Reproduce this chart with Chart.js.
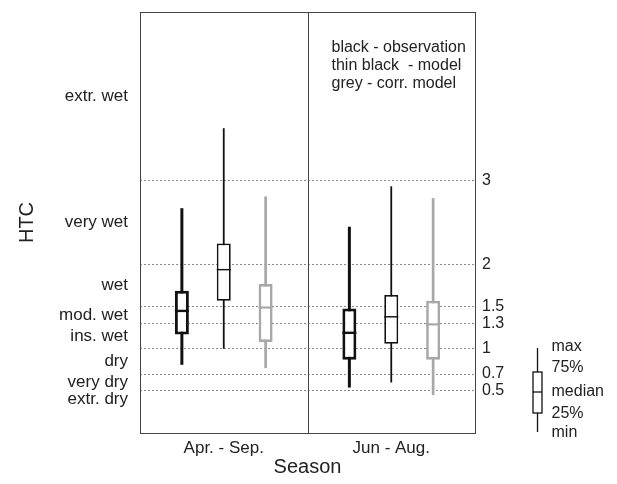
<!DOCTYPE html>
<html>
<head>
<meta charset="utf-8">
<script src="https://cdn.jsdelivr.net/npm/chart.js@4/dist/chart.umd.min.js"></script>
<style>
  html, body { margin: 0; padding: 0; background: #fff; }
  canvas { display: block; }
</style>
</head>
<body>
<canvas id="chart" width="617" height="484"></canvas>
<script>
// seasons on the x axis
var seasons = ["Apr. - Sep.", "Jun - Aug."];

// five-number summaries per season: [min, 25%, median, 75%, max]
var observation = [[0.81, 1.17, 1.45, 1.69, 2.67], [0.54, 0.87, 1.19, 1.48, 2.45]];
var model = [[1.00, 1.57, 1.94, 2.25, 3.62], [0.60, 1.06, 1.38, 1.64, 2.93]];
var corrModel = [[0.77, 1.08, 1.49, 1.77, 2.81], [0.45, 0.87, 1.29, 1.57, 2.79]];

// HTC class thresholds (right axis) and class labels (left axis)
var thresholds = [0.5, 0.7, 1, 1.3, 1.5, 2, 3];
var classLabels = ["extr. dry", "very dry", "dry", "ins. wet", "mod. wet", "wet", "very wet", "extr. wet"];
var classPositions = [0.4, 0.6, 0.85, 1.15, 1.4, 1.75, 2.5, 4];

var notes = ["black - observation", "thin black  - model", "grey - corr. model"];
var keyLabels = ["max", "75%", "median", "25%", "min"];

var FONT = '"Liberation Sans", Arial, Helvetica, sans-serif';
var TEXT = "#222";
Chart.defaults.font.family = FONT;
Chart.defaults.color = TEXT;

function boxSet(label, stats, color, width) {
  return {
    label: label,
    stats: stats,
    data: stats.map(function(s) { return [s[1], s[3]]; }),
    backgroundColor: "#fff",
    borderColor: color,
    borderWidth: width,
    borderSkipped: false,
    whiskerWidth: width,
    yAxisID: "y",
    categoryPercentage: 0.75,
    barPercentage: 0.334
  };
}

var boxPlot = {
  id: "boxPlot",
  beforeDatasetsDraw: function(chart) {
    var ctx = chart.ctx, y = chart.scales.y;
    chart.data.datasets.forEach(function(ds, i) {
      chart.getDatasetMeta(i).data.forEach(function(bar, j) {
        var s = ds.stats[j];
        ctx.save();
        ctx.strokeStyle = ds.borderColor;
        ctx.lineWidth = ds.whiskerWidth;
        ctx.beginPath();
        ctx.moveTo(bar.x, y.getPixelForValue(s[0]));
        ctx.lineTo(bar.x, y.getPixelForValue(s[4]));
        ctx.stroke();
        ctx.restore();
      });
    });
  },
  afterDatasetsDraw: function(chart) {
    var ctx = chart.ctx, y = chart.scales.y;
    chart.data.datasets.forEach(function(ds, i) {
      chart.getDatasetMeta(i).data.forEach(function(bar, j) {
        var py = y.getPixelForValue(ds.stats[j][2]);
        ctx.save();
        ctx.strokeStyle = ds.borderColor;
        ctx.lineWidth = ds.borderWidth * 0.8;
        ctx.beginPath();
        ctx.moveTo(bar.x - bar.width / 2, py);
        ctx.lineTo(bar.x + bar.width / 2, py);
        ctx.stroke();
        ctx.restore();
      });
    });
  },
  afterDraw: function(chart) {
    var ctx = chart.ctx, a = chart.chartArea, x = chart.scales.x;
    var split = (x.getPixelForValue(0) + x.getPixelForValue(1)) / 2;
    ctx.save();
    // frame + season divider
    ctx.strokeStyle = "#444";
    ctx.lineWidth = 1;
    ctx.strokeRect(a.left + 0.5, a.top + 0.5, a.right - a.left, a.bottom - a.top);
    ctx.beginPath();
    ctx.moveTo(Math.round(split) + 0.5, a.top);
    ctx.lineTo(Math.round(split) + 0.5, a.bottom);
    ctx.stroke();

    // notes in the upper right panel
    ctx.fillStyle = TEXT;
    ctx.font = "16px " + FONT;
    ctx.textBaseline = "alphabetic";
    ctx.textAlign = "left";
    notes.forEach(function(t, i) {
      ctx.fillText(t, split + 24, a.top + 40 + i * 18);
    });

    // key box on the right
    var kx = a.right + 62.5, kTop = 348, kBottom = 432;
    ctx.strokeStyle = "#111";
    ctx.lineWidth = 1.3;
    ctx.beginPath();
    ctx.moveTo(kx, kTop);
    ctx.lineTo(kx, kBottom);
    ctx.stroke();
    ctx.fillStyle = "#fff";
    ctx.fillRect(kx - 4.5, 372, 9, 41);
    ctx.strokeRect(kx - 4.5, 372, 9, 41);
    ctx.beginPath();
    ctx.moveTo(kx - 4.5, 392);
    ctx.lineTo(kx + 4.5, 392);
    ctx.stroke();
    ctx.fillStyle = TEXT;
    ctx.textBaseline = "middle";
    var ky = [347, 368, 392, 414, 433];
    keyLabels.forEach(function(t, i) {
      ctx.fillText(t, kx + 14, ky[i]);
    });
    ctx.restore();
  }
};

function noPad(s) {
  s.paddingTop = 0;
  s.paddingBottom = 0;
}

new Chart(document.getElementById("chart"), {
  type: "bar",
  data: {
    labels: seasons,
    datasets: [
      boxSet("observation", observation, "#111", 3),
      boxSet("model", model, "#111", 1.8),
      boxSet("corr. model", corrModel, "#a8a8a8", 2.7)
    ]
  },
  options: {
    responsive: false,
    animation: false,
    layout: { padding: { top: 12, left: 0, right: 0, bottom: 0 } },
    plugins: { legend: { display: false }, tooltip: { enabled: false } },
    scales: {
      x: {
        grid: { display: false, drawTicks: false },
        border: { display: false },
        ticks: { font: { size: 17 }, padding: 5, color: TEXT },
        title: { display: true, text: "Season", font: { size: 20 }, padding: { top: 0, bottom: 5 }, color: TEXT },
        afterFit: function(s) { s.height = 51; s.paddingLeft = 0; s.paddingRight = 0; }
      },
      yc: {
        position: "left",
        min: 0, max: 5,
        grid: { display: false, drawTicks: false },
        border: { display: false },
        afterBuildTicks: function(s) {
          s.ticks = classPositions.map(function(v) { return { value: v }; });
        },
        ticks: {
          font: { size: 17 }, padding: 12, color: TEXT,
          callback: function(v) { return classLabels[classPositions.indexOf(v)]; }
        },
        title: { display: true, text: "HTC", font: { size: 20 }, padding: { top: 15, bottom: 0 }, color: TEXT },
        afterFit: function(s) { s.width = 140; noPad(s); }
      },
      y: {
        position: "right",
        min: 0, max: 5,
        grid: { color: "#8a8a8a", lineWidth: 1, drawTicks: false },
        border: { display: false, dash: [2, 2] },
        afterBuildTicks: function(s) {
          s.ticks = thresholds.map(function(v) { return { value: v }; });
        },
        ticks: {
          font: { size: 16 }, padding: 7, color: TEXT,
          callback: function(v) { return String(v); }
        },
        afterFit: function(s) { s.width = 142; noPad(s); }
      }
    }
  },
  plugins: [boxPlot]
});
</script>
</body>
</html>
